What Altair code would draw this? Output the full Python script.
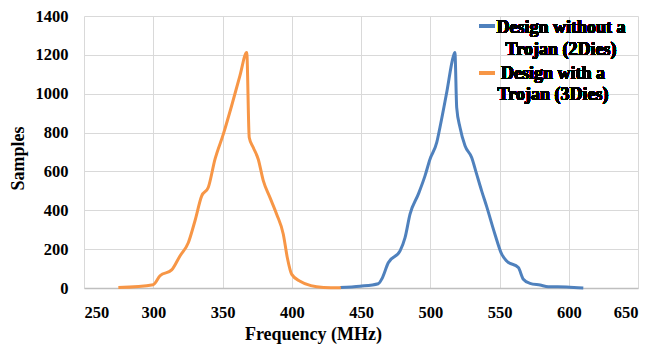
import altair as alt
import pandas as pd

# Series: Design without a Trojan (2Dies)
freq_2dies = [434.8, 449.3, 462.5, 464.9, 469.7, 478.2, 481.8, 485.4, 491.4, 496.2, 499.8,
              504.7, 507.0, 511.9, 516.6, 517.8, 519.1, 521.5, 525.1, 529.9, 533.5, 537.1,
              540.7, 546.7, 551.6, 555.2, 563.6, 567.2, 572.0, 579.3, 585.2, 598.5, 610.5]
samples_2dies = [2, 9, 22, 45, 130, 191, 259, 380, 483, 577, 663,
                 749, 826, 1007, 1190, 1212, 929, 826, 732, 672, 586, 500,
                 420, 277, 174, 139, 105, 45, 24, 15, 7, 5, 0]

# Series: Design with a Trojan (3Dies)
freq_3dies = [274.8, 300.0, 304.9, 313.3, 319.3, 325.3, 330.1, 335.0, 339.7, 344.6, 350.6,
              356.6, 362.6, 367.5, 369.3, 372.2, 375.8, 379.5, 384.3, 389.1, 393.9, 396.8,
              400.0, 406.0, 413.8, 423.0, 435.5]
samples_3dies = [2, 17, 63, 93, 165, 233, 345, 474, 517, 663, 792,
                 938, 1093, 1212, 775, 723, 663, 551, 465, 380, 277, 156,
                 70, 35, 12, 3, 1]

series_names = ["Design without a Trojan (2Dies)", "Design with a Trojan (3Dies)"]
legend_lines = [["Design without a", "Trojan (2Dies)"], ["Design with a", "Trojan (3Dies)"]]
series_colors = ["#4F81BD", "#F79646"]

x_ticks = [250, 300, 350, 400, 450, 500, 550, 600, 650]
y_ticks = [0, 200, 400, 600, 800, 1000, 1200, 1400]

df = pd.concat([
    pd.DataFrame({"freq": freq_2dies, "samples": samples_2dies, "series": series_names[0], "ord": 0}),
    pd.DataFrame({"freq": freq_3dies, "samples": samples_3dies, "series": series_names[1], "ord": 1}),
])

FONT = "Liberation Serif"

lines = alt.Chart(df).mark_line(strokeWidth=3, interpolate="monotone").encode(
    x=alt.X("freq:Q",
            scale=alt.Scale(domain=[x_ticks[0], x_ticks[-1]], nice=False, zero=False),
            axis=alt.Axis(values=x_ticks, format="d", title="Frequency (MHz)", ticks=False,
                          labelFont=FONT, labelFontWeight="bold", labelFontSize=16.5,
                          labelColor="black",
                          labelPadding=24, labelBaseline="middle",
                          titleFont=FONT, titleFontWeight="bold", titleFontSize=18,
                          titleX=229, titleY=46, titleAlign="center", titleBaseline="middle",
                          domainColor="#bfbfbf", domainWidth=1.5)),
    y=alt.Y("samples:Q",
            scale=alt.Scale(domain=[y_ticks[0], y_ticks[-1]], nice=False),
            axis=alt.Axis(values=y_ticks, format="d", title="Samples", ticks=False, labelPadding=16,
                          labelFont=FONT, labelFontWeight="bold", labelFontSize=16.5,
                          labelColor="black",
                          titleFont=FONT, titleFontWeight="bold", titleFontSize=18,
                          titleX=-66, titleY=142, titleAngle=-90, titleAlign="center",
                          titleBaseline="middle", domain=False)),
    color=alt.Color("series:N", scale=alt.Scale(domain=series_names, range=series_colors), legend=None),
    detail="ord:O",
)

legend_layers = []
sym_y = [10, 57]
text_x = [477, 469]
text_y = [[12, 34], [58, 79]]
for i in range(2):
    legend_layers.append(
        alt.Chart(df).mark_rule(strokeWidth=3, color=series_colors[i]).encode(
            x=alt.value(395), x2=alt.value(411), y=alt.value(sym_y[i]))
    )
    for j, line in enumerate(legend_lines[i]):
        legend_layers.append(
            alt.Chart(df).mark_text(font=FONT, fontWeight="bold", fontSize=18, color="black",
                                    align="center", baseline="middle").encode(
                x=alt.value(text_x[i]), y=alt.value(text_y[i][j]), text=alt.value(line))
        )

chart = alt.layer(lines, *legend_layers).properties(
    width=554, height=272,
    autosize=alt.AutoSizeParams(type="none"),
    padding={"left": 84, "top": 16, "right": 14, "bottom": 60},
).configure_view(stroke=None).configure_axis(
    labelFont=FONT, labelFontWeight="bold", labelFontSize=16.5, labelColor="black",
    titleFont=FONT, titleFontWeight="bold", titleFontSize=18, titleColor="black",
    gridColor="#d9d9d9", gridWidth=1,
)

chart.save("out.html", embed_options={"renderer": "svg", "actions": False})
